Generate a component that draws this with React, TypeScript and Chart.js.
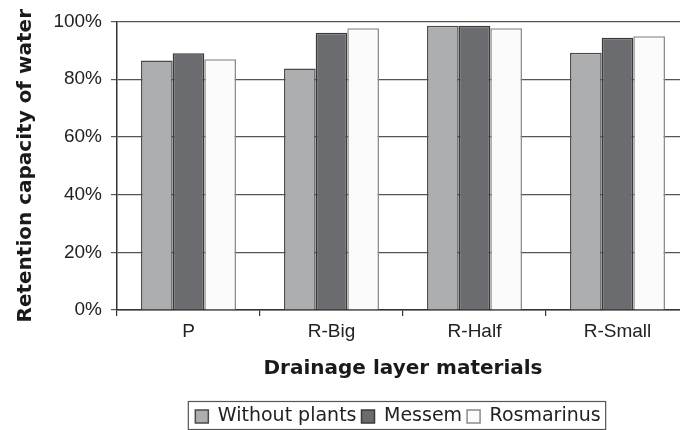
import React, { useEffect, useRef } from "react";
import { Chart, registerables } from "chart.js";

Chart.register(...registerables);

const categories = ["P", "R-Big", "R-Half", "R-Small"];
const seriesNames = ["Without plants", "Messem", "Rosmarinus"];
const withoutPlants = [86.5, 83.7, 98.5, 89.2];
const messem = [89.0, 96.1, 98.5, 94.4];
const rosmarinus = [86.9, 97.7, 97.7, 94.9];
const yMin = 0;
const yMax = 100;
const yStep = 20;
const xTitle = "Drainage layer materials";
const yTitle = "Retention capacity of water";

const legendBorder = {
  id: "legendBorder",
  afterUpdate(chart: any) {
    const lg = chart.legend;
    if (!lg) return;
    const shift = -5;
    lg.left += shift;
    lg.right += shift;
    if (lg.legendHitBoxes) {
      lg.legendHitBoxes.forEach((h: any) => {
        h.left += shift;
      });
    }
  },
  afterDraw(chart: any) {
    const lg = chart.legend;
    if (!lg || !lg.legendHitBoxes || !lg.legendHitBoxes.length) return;
    const hb = lg.legendHitBoxes;
    const first = hb[0];
    const last = hb[hb.length - 1];
    const ctx = chart.ctx;
    ctx.save();
    ctx.strokeStyle = "#555";
    ctx.lineWidth = 1.2;
    const left = first.left - 7;
    const right = last.left + last.width + 5;
    const top = lg.top - 0.5;
    const bottom = 429.5;
    ctx.strokeRect(left, top, right - left, bottom - top);
    ctx.restore();
  },
};

export default function App() {
  const ref = useRef<HTMLCanvasElement | null>(null);
  useEffect(() => {
    if (!ref.current) return;
    const chart = new Chart(ref.current, {
      type: "bar",
      data: {
        labels: categories,
        datasets: [
          {
            label: seriesNames[0],
            data: withoutPlants,
            backgroundColor: "#adaeb0",
            borderColor: "#4a4a4a",
            borderWidth: 1.5,
          },
          {
            label: seriesNames[1],
            data: messem,
            backgroundColor: "#6b6c70",
            borderColor: "#3a3a3a",
            borderWidth: 1.5,
          },
          {
            label: seriesNames[2],
            data: rosmarinus,
            backgroundColor: "#fbfbfb",
            borderColor: "#8a8a8a",
            borderWidth: 1.5,
          },
        ],
      },
      options: {
        animation: false,
        responsive: false,
        devicePixelRatio: 1,
        layout: { padding: { top: 21.5, left: 0, right: 8, bottom: -6 } },
        datasets: {
          bar: { barPercentage: 1, categoryPercentage: 0.664 },
        },
        plugins: {
          tooltip: { enabled: false },
          legend: {
            position: "bottom",
            fullSize: false,
            labels: {
              font: { family: "'DejaVu Sans'", size: 19 },
              color: "#222",
              boxWidth: 13,
              boxHeight: 13,
              padding: 5,
            },
          },
        },
        scales: {
          x: {
            afterFit(scale: any) {
              scale.height = 92;
            },
            grid: {
              display: true,
              drawOnChartArea: false,
              drawTicks: true,
              tickLength: 6,
              color: "#333",
              lineWidth: 1.2,
            },
            border: { display: true, color: "#333", width: 1.5 },
            ticks: {
              font: { family: "'Liberation Sans', Arial", size: 19 },
              color: "#222",
              padding: 4,
              maxRotation: 0,
            },
            title: {
              display: true,
              text: xTitle,
              font: { family: "'DejaVu Sans'", size: 20, weight: "bold" },
              color: "#1a1a1a",
              padding: { top: 0, bottom: 21 },
            },
          },
          y: {
            min: yMin,
            max: yMax,
            afterFit(scale: any) {
              scale.width = 117;
            },
            grid: {
              display: true,
              drawTicks: true,
              tickLength: 6,
              color: "#555",
              lineWidth: 1.2,
            },
            border: { display: true, color: "#333", width: 1.5 },
            ticks: {
              stepSize: yStep,
              font: { family: "'Liberation Sans', Arial", size: 19 },
              color: "#222",
              padding: 9,
              callback: (v: any) => v + "%",
            },
            title: {
              display: true,
              text: yTitle,
              font: { family: "'DejaVu Sans'", size: 20, weight: "bold" },
              color: "#1a1a1a",
              padding: { top: 14, bottom: 0 },
            },
          },
        },
      },
      plugins: [legendBorder],
    });
    return () => chart.destroy();
  }, []);
  return (
    <div
      style={{
        position: "fixed",
        left: 0,
        top: 0,
        width: 680,
        height: 430,
        overflow: "hidden",
        background: "#fff",
      }}
    >
      <canvas ref={ref} width={697} height={430} style={{ display: "block" }} />
    </div>
  );
}
